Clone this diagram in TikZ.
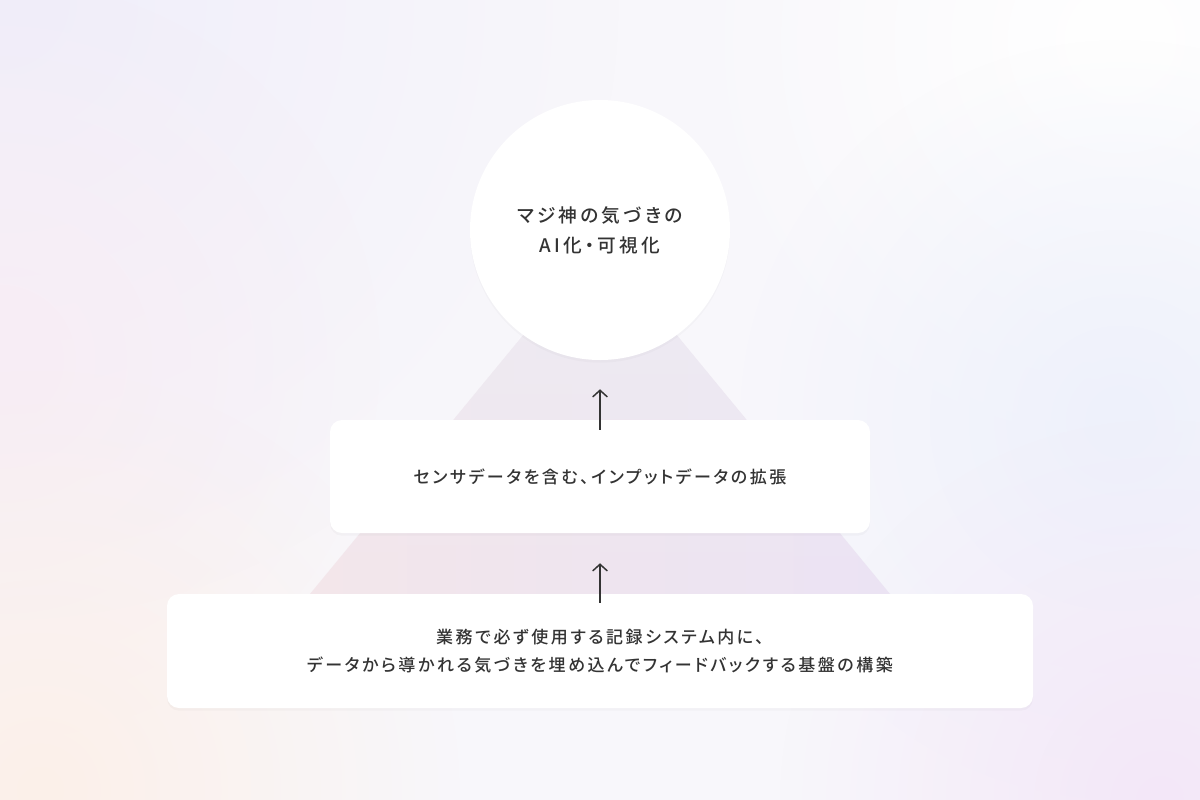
\documentclass[tikz,border=0pt]{standalone}
\usepackage{fontspec}
\usepackage{tikz}
\usetikzlibrary{arrows.meta,shadows,fadings}

\newfontfamily\boxfont{Noto Sans CJK JP}[UprightFont=* Medium, RawFeature=+palt, LetterSpace=15]
\newfontfamily\circfont{Noto Sans CJK JP}[UprightFont=* Medium, RawFeature=+palt, LetterSpace=17]

\definecolor{bgbase}{HTML}{F8F7FB}
\definecolor{bglav}{HTML}{F0EEFA}
\definecolor{bgpink}{HTML}{F8EDF5}
\definecolor{bgpeach}{HTML}{FCF0E9}
\definecolor{bgblue}{HTML}{EEF1FB}
\definecolor{bgmauve}{HTML}{F3E7F8}
\definecolor{tritop}{HTML}{EDECF3}
\definecolor{tripink}{HTML}{F4E6EA}
\definecolor{trilav}{HTML}{EBE3F4}
\definecolor{textgray}{HTML}{333333}

\tikzfading[name=blobfade, inner color=transparent!0, outer color=transparent!100]
\tikzfading[name=fadedown, top color=transparent!0, bottom color=transparent!100]

\tikzset{
  blob/.style={path fading=blobfade},
  card/.style={fill=white, rounded corners=9pt, inner sep=0pt, align=center,
    text=textgray, font=\boxfont\fontsize{12.75pt}{21pt}\selectfont,
    general shadow={fill=black, opacity=0.025, shadow yshift=-2pt}},
  goalcircle/.style={circle, fill=white, minimum size=195pt, inner sep=0pt, align=center,
    text=textgray, font=\circfont\fontsize{14pt}{22.5pt}\selectfont,
    general shadow={fill=black, opacity=0.02, shadow yshift=-2pt}},
  arr/.style={draw=textgray, line width=1.1pt, -{Straight Barb[length=5pt,width=11pt]}}
}

\begin{document}
\begin{tikzpicture}[x=0.75pt, y=-0.75pt]
\useasboundingbox (0,0) rectangle (1200,800);

\begin{scope}
\clip (0,0) rectangle (1200,800);
\fill[bgbase] (0,0) rectangle (1200,800);
\fill[bglav, blob] (0,0) circle (620);
\fill[white, blob] (1120,40) circle (450);
\fill[bgpink, blob] (0,360) circle (380);
\fill[bgpeach, blob] (40,790) circle (420);
\fill[bgblue, blob] (1120,420) circle (380);
\fill[bgmauve, blob] (1160,800) circle (380);
\end{scope}

\coordinate (apex) at (600,242);
\coordinate (baseL) at (310,594);
\coordinate (baseR) at (890,594);
\shade[left color=tripink, right color=trilav] (apex) -- (baseL) -- (baseR) -- cycle;
\fill[tritop, path fading=fadedown] (apex) -- (baseL) -- (baseR) -- cycle;

\node[goalcircle] (goal) at (600,230) {マジ神の気づきの\\AI化・可視化};
\node[card, minimum width=405pt, minimum height=84.75pt] (input) at (600,476.5)
  {センサデータを含む、インプットデータの拡張};
\node[card, minimum width=649.5pt, minimum height=85.5pt] (base) at (600,651)
  {業務で必ず使用する記録システム内に、\\データから導かれる気づきを埋め込んでフィードバックする基盤の構築};

\draw[arr] ([yshift=-7.5pt]input.north) -- ([yshift=-21.75pt]goal.south);
\draw[arr] ([yshift=-6.75pt]base.north) -- ([yshift=-22.5pt]input.south);
\end{tikzpicture}
\end{document}
